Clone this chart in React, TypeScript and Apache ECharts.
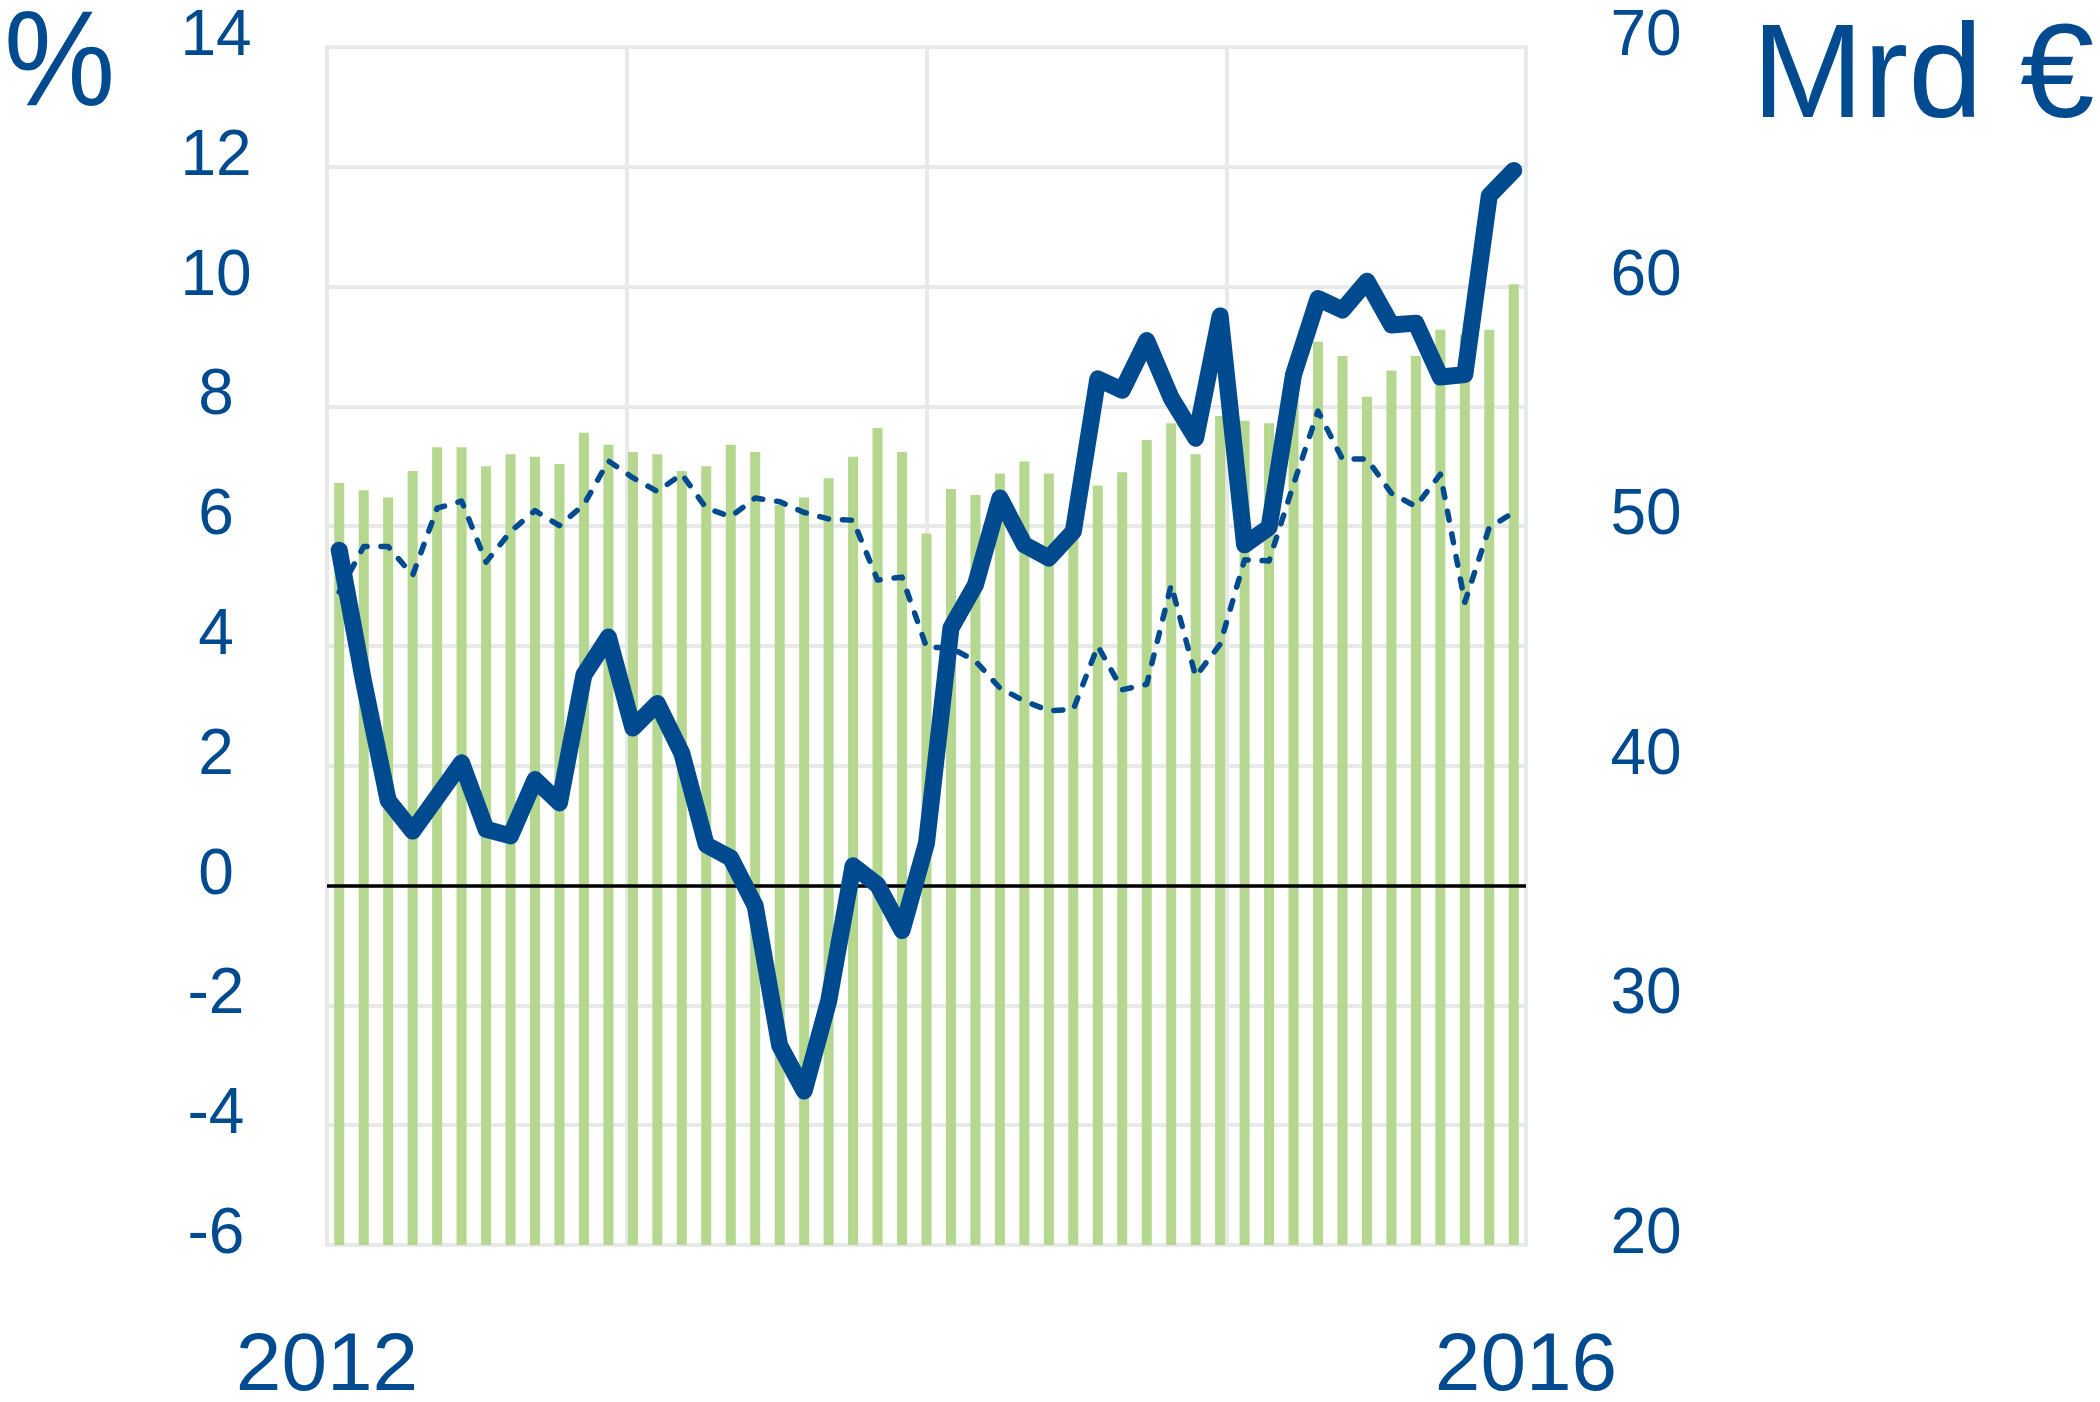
import React, { useEffect, useRef } from "react";
import * as echarts from "echarts";

const months = [
  "2012-01", "2012-02", "2012-03", "2012-04", "2012-05", "2012-06", "2012-07", "2012-08", "2012-09", "2012-10", "2012-11", "2012-12",
  "2013-01", "2013-02", "2013-03", "2013-04", "2013-05", "2013-06", "2013-07", "2013-08", "2013-09", "2013-10", "2013-11", "2013-12",
  "2014-01", "2014-02", "2014-03", "2014-04", "2014-05", "2014-06", "2014-07", "2014-08", "2014-09", "2014-10", "2014-11", "2014-12",
  "2015-01", "2015-02", "2015-03", "2015-04", "2015-05", "2015-06", "2015-07", "2015-08", "2015-09", "2015-10", "2015-11", "2015-12",
  "2016-01",
];

// Bars, right axis (Mrd €)
const levelMrd = [
  51.8, 51.5, 51.2, 52.3, 53.3, 53.3, 52.5, 53.0, 52.9, 52.6, 53.9, 53.4,
  53.1, 53.0, 52.3, 52.5, 53.4, 53.1, 50.9, 51.2, 52.0, 52.9, 54.1, 53.1,
  49.7, 51.55, 51.3, 52.2, 52.7, 52.2, 49.6, 51.7, 52.25, 53.6, 54.3, 53.0,
  54.6, 54.4, 54.3, 56.2, 57.7, 57.1, 55.4, 56.5, 57.1, 58.2, 58.0, 58.2,
  60.1,
];

// Thick line, left axis (%)
const growthThick = [
  5.6, 3.4, 1.42, 0.91, 1.48, 2.05, 0.94, 0.83, 1.77, 1.38, 3.52, 4.15,
  2.63, 3.04, 2.21, 0.68, 0.46, -0.34, -2.67, -3.43, -1.93, 0.33, 0.01, -0.75,
  0.71, 4.3, 5.02, 6.47, 5.69, 5.47, 5.91, 8.46, 8.27, 9.1, 8.14, 7.47,
  9.51, 5.69, 5.98, 8.53, 9.8, 9.61, 10.09, 9.36, 9.39, 8.49, 8.53, 11.52,
  11.94,
];

// Dashed line, left axis (%)
const growthDashed = [
  4.9, 5.66, 5.66, 5.18, 6.3, 6.42, 5.4, 5.91, 6.26, 6.01, 6.36, 7.09,
  6.81, 6.58, 6.87, 6.3, 6.16, 6.47, 6.41, 6.23, 6.12, 6.1, 5.1, 5.15,
  3.98, 3.97, 3.75, 3.3, 3.08, 2.92, 2.94, 4.0, 3.27, 3.36, 5.02, 3.49,
  4.03, 5.44, 5.42, 6.7, 7.92, 7.12, 7.12, 6.55, 6.33, 6.87, 4.73, 5.98,
  6.23,
];

const yearLabels = ["2012", "", "", "", "2016"];
const leftUnit = "%";
const rightUnit = "Mrd €";

const BLUE = "#004a8f";
const GREEN = "#b5d78f";
const GRID = "#e8e9e9";
const FONT = "'Liberation Sans', Arial, Helvetica, sans-serif";

export default function App() {
  const ref = useRef<HTMLDivElement>(null);

  useEffect(() => {
    if (!ref.current) return;
    const chart = echarts.init(ref.current, undefined, { renderer: "svg" });
    chart.setOption({
      animation: false,
      backgroundColor: "#ffffff",
      textStyle: { fontFamily: FONT },
      grid: {
        left: 327,
        top: 47,
        width: 1199,
        height: 1198,
        show: true,
        borderColor: GRID,
        borderWidth: 4,
        containLabel: false,
      },
      xAxis: [
        {
          type: "category",
          data: months,
          boundaryGap: true,
          show: false,
        },
        {
          type: "value",
          min: 0,
          max: 4,
          interval: 1,
          position: "bottom",
          axisLine: { show: false },
          axisTick: { show: false },
          splitLine: { show: true, lineStyle: { color: GRID, width: 4 } },
          axisLabel: {
            formatter: (v: number) => yearLabels[Math.round(v)] ?? "",
            color: BLUE,
            fontSize: 82,
            fontFamily: FONT,
            align: "center",
            verticalAlign: "middle",
            lineHeight: 60,
            margin: 116,
          },
        },
      ],
      yAxis: [
        {
          type: "value",
          min: -6,
          max: 14,
          interval: 2,
          position: "left",
          axisLine: { show: false },
          axisTick: { show: false },
          splitLine: { show: true, lineStyle: { color: GRID, width: 4 } },
          axisLabel: {
            color: BLUE,
            fontSize: 64,
            fontFamily: FONT,
            align: "center",
            verticalAlign: "bottom",
            lineHeight: 28,
            margin: 111,
          },
        },
        {
          type: "value",
          min: 20,
          max: 70,
          interval: 10,
          position: "right",
          axisLine: { show: false },
          axisTick: { show: false },
          splitLine: { show: false },
          axisLabel: {
            color: BLUE,
            fontSize: 64,
            fontFamily: FONT,
            align: "center",
            verticalAlign: "bottom",
            lineHeight: 28,
            margin: 120,
          },
        },
      ],
      series: [
        {
          name: "Mrd €",
          type: "bar",
          xAxisIndex: 0,
          yAxisIndex: 1,
          data: levelMrd,
          barWidth: 10,
          itemStyle: { color: GREEN },
          z: 2,
        },
        {
          name: "dashed",
          type: "line",
          xAxisIndex: 0,
          yAxisIndex: 0,
          data: growthDashed,
          symbol: "none",
          lineStyle: { color: BLUE, width: 5.5, type: [9, 14], cap: "round", join: "round" },
          z: 3,
          markLine: {
            silent: true,
            symbol: "none",
            label: { show: false },
            lineStyle: { color: "#000000", width: 3.5, type: "solid" },
            data: [{ yAxis: 0 }],
          },
        },
        {
          name: "thick",
          type: "line",
          xAxisIndex: 0,
          yAxisIndex: 0,
          data: growthThick,
          symbol: "none",
          lineStyle: { color: BLUE, width: 17, cap: "round", join: "round" },
          z: 5,
        },
      ],
      graphic: [
        {
          type: "text",
          x: 4,
          y: 8,
          scaleX: 0.92,
          style: {
            text: leftUnit,
            fill: BLUE,
            fontSize: 136,
            fontFamily: FONT,
            lineHeight: 100,
            align: "left",
            verticalAlign: "top",
          },
        },
        {
          type: "text",
          x: 1752,
          y: 20,
          style: {
            text: rightUnit,
            fill: BLUE,
            fontSize: 134,
            fontFamily: FONT,
            lineHeight: 100,
            align: "left",
            verticalAlign: "top",
          },
        },
      ],
    });
    return () => chart.dispose();
  }, []);

  return (
    <div
      ref={ref}
      style={{ position: "fixed", left: 0, top: 0, width: 2100, height: 1402 }}
    />
  );
}
